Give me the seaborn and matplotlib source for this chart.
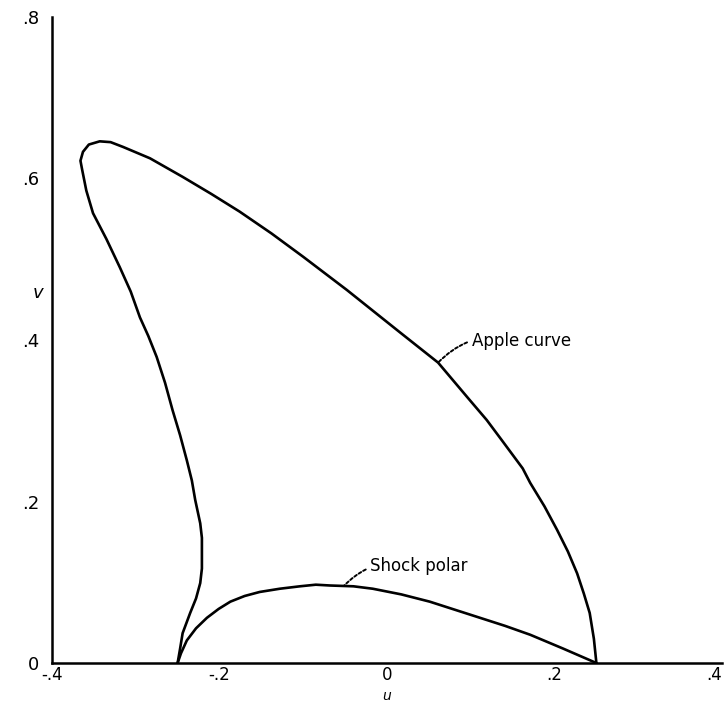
import numpy as np
import pandas as pd
import seaborn as sns
import matplotlib
matplotlib.use("Agg")
import matplotlib.pyplot as plt

# apple curve (left branch up, over the top, down the right)
apple_u = [-0.250, -0.247, -0.244, -0.235, -0.228, -0.223, -0.221, -0.221, -0.221,
           -0.223, -0.229, -0.233, -0.239, -0.247, -0.256, -0.265, -0.275, -0.285, -0.295,
           -0.306, -0.319, -0.335, -0.351, -0.359, -0.364, -0.366, -0.363, -0.356,
           -0.343, -0.330, -0.315, -0.283, -0.244, -0.210, -0.176, -0.138, -0.100,
           -0.048, 0.016, 0.061, 0.096, 0.119, 0.137, 0.162, 0.171, 0.188, 0.203,
           0.216, 0.227, 0.235, 0.242, 0.247, 0.250]
apple_v = [0.000, 0.018, 0.037, 0.062, 0.080, 0.099, 0.117, 0.136, 0.155,
           0.173, 0.202, 0.226, 0.251, 0.282, 0.313, 0.347, 0.379, 0.405, 0.428,
           0.460, 0.490, 0.525, 0.557, 0.585, 0.611, 0.622, 0.633, 0.642,
           0.646, 0.645, 0.639, 0.625, 0.602, 0.581, 0.559, 0.532, 0.503,
           0.462, 0.409, 0.372, 0.329, 0.301, 0.276, 0.241, 0.223, 0.194, 0.165,
           0.138, 0.111, 0.086, 0.062, 0.030, 0.000]

# shock polar
polar_u = [-0.250, -0.246, -0.239, -0.228, -0.215, -0.201, -0.187, -0.170, -0.152,
           -0.128, -0.104, -0.085, -0.068, -0.040, -0.017, 0.017, 0.051, 0.081,
           0.111, 0.141, 0.171, 0.210, 0.250]
polar_v = [0.000, 0.012, 0.028, 0.043, 0.056, 0.067, 0.076, 0.083, 0.088,
           0.092, 0.095, 0.097, 0.096, 0.095, 0.092, 0.085, 0.076, 0.066,
           0.056, 0.046, 0.035, 0.018, 0.000]

xticks = [-0.4, -0.2, 0.0, 0.2, 0.4]
xticklabels = ["-.4", "-.2", "0", ".2", ".4"]
yticks = [0.0, 0.2, 0.4, 0.6, 0.8]
yticklabels = ["0", ".2", ".4", ".6", ".8"]

sns.set_style("white")
plt.rcParams["font.family"] = ["DejaVu Sans"]

fig = plt.figure(figsize=(7.28, 7.04), dpi=100)
ax = fig.add_axes([0.0714, 0.0582, 0.9204, 0.9177])

apple = pd.DataFrame({"u": apple_u, "v": apple_v})
polar = pd.DataFrame({"u": polar_u, "v": polar_v})
sns.lineplot(data=apple, x="u", y="v", sort=False, estimator=None, color="black", lw=1.9, ax=ax)
sns.lineplot(data=polar, x="u", y="v", sort=False, estimator=None, color="black", lw=1.9, ax=ax)

ax.set_xlim(-0.4, 0.4)
ax.set_ylim(0, 0.8)
ax.set_xticks(xticks)
ax.set_xticklabels(xticklabels)
ax.set_yticks(yticks)
ax.set_yticklabels(yticklabels)
ax.tick_params(direction="in", length=8, width=1.5, labelsize=13, pad=9, colors="black")
ax.tick_params(axis="x", pad=2, labelsize=12)
ax.get_xticklabels()[-1].set_ha("right")

for s in ["top", "right"]:
    ax.spines[s].set_visible(False)
for s in ["left", "bottom"]:
    ax.spines[s].set_color("black")
    ax.spines[s].set_linewidth(1.8)

ax.set_xlabel("u", fontsize=10, style="italic", color="black", va="center")
ax.set_ylabel("v", fontsize=13, style="italic", rotation=0, color="black",
              va="center", ha="center")
ax.xaxis.set_label_coords(0.5, -0.0505)
ax.yaxis.set_label_coords(-0.021, 0.573)

ax.annotate("Apple curve", xy=(0.061, 0.372), xytext=(0.101, 0.399),
            fontsize=12, ha="left", va="center", color="black",
            arrowprops=dict(arrowstyle="-", ls=(0, (1.5, 1.2)), lw=1.4, color="black",
                            shrinkA=1, shrinkB=0, connectionstyle="arc3,rad=0.3"))
ax.annotate("Shock polar", xy=(-0.051, 0.096), xytext=(-0.020, 0.120),
            fontsize=12, ha="left", va="center", color="black",
            arrowprops=dict(arrowstyle="-", ls=(0, (1.5, 1.2)), lw=1.4, color="black",
                            shrinkA=1, shrinkB=0, connectionstyle="arc3,rad=0.3"))

fig.savefig("out.png", dpi=100)
